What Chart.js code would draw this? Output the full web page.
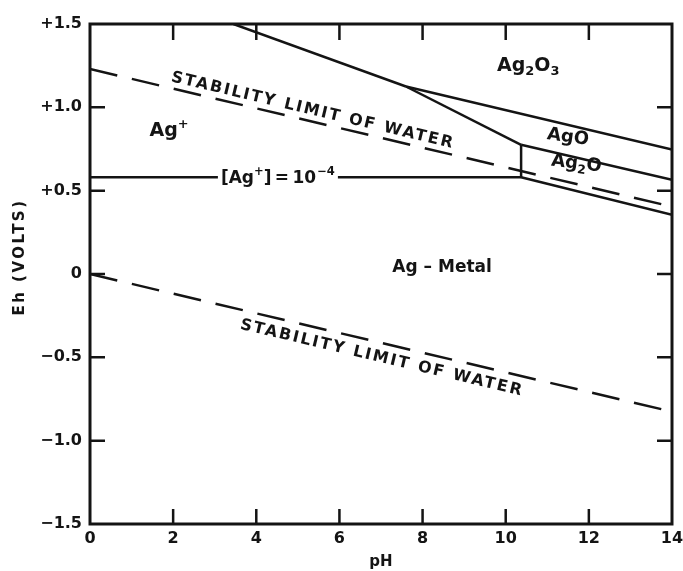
<!DOCTYPE html>
<html>
<head>
<meta charset="utf-8">
<script src="https://cdn.jsdelivr.net/npm/chart.js@4/dist/chart.umd.min.js"></script>
<style>
  body { margin: 0; background: #fff; }
  #wrap { width: 683px; height: 571px; }
</style>
</head>
<body>
<div id="wrap"><canvas id="ehph" width="683" height="571"></canvas></div>
<script>
// axis ticks
const phTicks = [0, 2, 4, 6, 8, 10, 12, 14];
const ehTickValues = [-1.5, -1.0, -0.5, 0, 0.5, 1.0, 1.5];
const ehTickLabels = ['\u22121.5', '\u22121.0', '\u22120.5', '0', '+0.5', '+1.0', '+1.5'];

// boundary lines, [pH, Eh]
const waterUpper = [[0, 1.23], [14, 0.404]];
const waterLower = [[0, 0.0], [14, -0.826]];
const agIonMetal = [[0, 0.58], [10.37, 0.58]];
const agIonAg2O3 = [[3.45, 1.5], [7.6, 1.125]];
const agIonAgO = [[7.6, 1.125], [10.37, 0.775]];
const ag2O3AgO = [[7.6, 1.125], [14, 0.747]];
const agIonAg2O = [[10.37, 0.58], [10.37, 0.775]];
const agOAg2O = [[10.37, 0.775], [14, 0.565]];
const ag2OMetal = [[10.37, 0.58], [14, 0.355]];

const INK = '#141414';
const FONT = '"DejaVu Sans", Arial, sans-serif';

function lineSet(points, dashed) {
    return {
        data: points.map(p => ({ x: p[0], y: p[1] })),
        showLine: true,
        borderColor: INK,
        borderWidth: 2.5,
        borderDash: dashed ? [28, 15] : [],
        pointRadius: 0,
        fill: false
    };
}

// text with sub/superscripts, centered on (cx, cy)
function drawRich(ctx, parts, cx, cy, size, angle) {
    ctx.save();
    ctx.translate(cx, cy);
    ctx.rotate(angle || 0);
    ctx.textBaseline = 'middle';
    ctx.textAlign = 'left';
    let total = 0;
    parts.forEach(p => {
        const s = p.sub || p.sup ? size * 0.68 : size;
        ctx.font = 'bold ' + s + 'px ' + FONT;
        p.w = ctx.measureText(p.t).width + (p.gap || 0);
        total += p.w;
    });
    let x = -total / 2;
    parts.forEach(p => {
        const s = p.sub || p.sup ? size * 0.68 : size;
        ctx.font = 'bold ' + s + 'px ' + FONT;
        let dy = 0;
        if (p.sub) dy = size * 0.32;
        if (p.sup) dy = -size * 0.38;
        ctx.fillText(p.t, x, dy);
        x += p.w;
    });
    ctx.restore();
    return total;
}

const diagramText = {
    id: 'diagramText',
    afterDatasetsDraw(chart) {
        const ctx = chart.ctx;
        const xs = chart.scales.x, ys = chart.scales.y;
        const a = chart.chartArea;
        const px = v => xs.getPixelForValue(v);
        const py = v => ys.getPixelForValue(v);
        ctx.save();
        ctx.fillStyle = INK;
        ctx.strokeStyle = INK;

        // frame
        ctx.lineWidth = 3;
        ctx.strokeRect(a.left, a.top, a.right - a.left, a.bottom - a.top);

        // inward ticks on all sides
        ctx.lineWidth = 2.5;
        ctx.beginPath();
        phTicks.slice(1, -1).forEach(v => {
            const x = px(v);
            ctx.moveTo(x, a.bottom); ctx.lineTo(x, a.bottom - 15);
            ctx.moveTo(x, a.top); ctx.lineTo(x, a.top + 16);
        });
        ehTickValues.slice(1, -1).forEach(v => {
            const y = py(v);
            ctx.moveTo(a.left, y); ctx.lineTo(a.left + 15, y);
            ctx.moveTo(a.right, y); ctx.lineTo(a.right - 15, y);
        });
        ctx.stroke();

        // [Ag+] = 10^-4 on the horizontal boundary
        const lx = px(4.52), ly = py(0.58);
        ctx.fillStyle = '#fff';
        ctx.fillRect(lx - 60, ly - 13, 120, 26);
        ctx.fillStyle = INK;
        drawRich(ctx, [
            { t: '[Ag' }, { t: '+', sup: true }, { t: ']\u2009=\u200910', gap: 1 }, { t: '\u22124', sup: true }
        ], lx, ly + 1, 17, 0);

        // field labels
        drawRich(ctx, [{ t: 'Ag' }, { t: '+', sup: true }], px(1.9), py(0.855), 19, 0);
        drawRich(ctx, [{ t: 'Ag' }, { t: '2', sub: true }, { t: 'O' }, { t: '3', sub: true }], px(10.54), py(1.25), 19, 0);
        drawRich(ctx, [{ t: 'AgO' }], px(11.5), py(0.82), 18, 0.14);
        drawRich(ctx, [{ t: 'Ag' }, { t: '2', sub: true }, { t: 'O' }], px(11.7), py(0.66), 18, 0.12);
        drawRich(ctx, [{ t: 'Ag \u2013 Metal' }], px(8.47), py(0.036), 17, 0);

        // water stability labels, rotated with the lines
        const angU = Math.atan2(py(waterUpper[1][1]) - py(waterUpper[0][1]), px(waterUpper[1][0]) - px(waterUpper[0][0]));
        const angL = Math.atan2(py(waterLower[1][1]) - py(waterLower[0][1]), px(waterLower[1][0]) - px(waterLower[0][0]));
        ctx.font = 'bold 16px ' + FONT;
        ctx.letterSpacing = '2px';
        ctx.textAlign = 'center';
        ctx.textBaseline = 'middle';
        ctx.save();
        ctx.translate(px(5.36), py(0.98));
        ctx.rotate(angU);
        ctx.fillText('STABILITY LIMIT OF WATER', 0, 0);
        ctx.restore();
        ctx.save();
        ctx.translate(px(7.02), py(-0.505));
        ctx.rotate(angL);
        ctx.fillText('STABILITY LIMIT OF WATER', 0, 0);
        ctx.restore();

        // y axis title
        ctx.letterSpacing = '2.5px';
        ctx.font = 'bold 15px ' + FONT;
        ctx.save();
        ctx.translate(20, 257);
        ctx.rotate(-Math.PI / 2);
        ctx.fillText('Eh (VOLTS)', 0, 0);
        ctx.restore();
        ctx.letterSpacing = '0px';
        ctx.restore();
    }
};

new Chart(document.getElementById('ehph').getContext('2d'), {
    type: 'scatter',
    data: {
        datasets: [
            lineSet(waterUpper, true),
            lineSet(waterLower, true),
            lineSet(agIonMetal, false),
            lineSet(agIonAg2O3, false),
            lineSet(agIonAgO, false),
            lineSet(ag2O3AgO, false),
            lineSet(agIonAg2O, false),
            lineSet(agOAg2O, false),
            lineSet(ag2OMetal, false)
        ]
    },
    options: {
        responsive: false,
        animation: false,
        layout: { padding: { left: 0, top: 24, right: 11, bottom: 0 } },
        plugins: {
            legend: { display: false },
            tooltip: { enabled: false }
        },
        scales: {
            x: {
                type: 'linear',
                min: 0,
                max: 14,
                afterFit: s => { s.height = 47; s.paddingLeft = 0; s.paddingRight = 0; },
                afterBuildTicks: s => { s.ticks = phTicks.map(v => ({ value: v })); },
                grid: { display: false, drawTicks: false },
                border: { display: false },
                ticks: {
                    color: INK,
                    padding: 5,
                    font: { family: FONT, size: 16, weight: 'bold' }
                },
                title: {
                    display: true,
                    text: 'pH',
                    color: INK,
                    padding: { top: 0, bottom: 0 },
                    font: { family: FONT, size: 15, weight: 'bold' }
                }
            },
            y: {
                type: 'linear',
                min: -1.5,
                max: 1.5,
                afterFit: s => { s.width = 90; s.paddingTop = 0; s.paddingBottom = 0; },
                afterBuildTicks: s => { s.ticks = ehTickValues.map(v => ({ value: v })); },
                grid: { display: false, drawTicks: false },
                border: { display: false },
                ticks: {
                    color: INK,
                    padding: 8,
                    font: { family: FONT, size: 16, weight: 'bold' },
                    callback: v => ehTickLabels[ehTickValues.indexOf(v)]
                }
            }
        }
    },
    plugins: [diagramText]
});
</script>
</body>
</html>
